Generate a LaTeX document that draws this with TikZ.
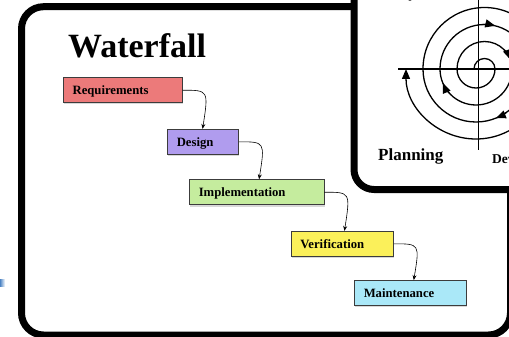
\documentclass[tikz,border=0pt]{standalone}
\usepackage{fontspec}
\setmainfont{Liberation Serif}
\usetikzlibrary{arrows.meta,shadows}

\definecolor{reqred}{HTML}{EC7A7A}
\definecolor{desviolet}{HTML}{B09CEE}
\definecolor{impgreen}{HTML}{C5EC9E}
\definecolor{veryellow}{HTML}{FBF05A}
\definecolor{maincyan}{HTML}{AAE8F8}
\definecolor{boxedge}{HTML}{3C3C3C}
\definecolor{smudgeblue}{HTML}{4D84C4}

\begin{document}
\begin{tikzpicture}[x=1pt,y=1pt,
  phase/.style={draw=boxedge, line width=0.8pt, minimum height=25pt,
    inner xsep=9.4pt, inner ysep=0pt, text height=8.5pt, text depth=0pt,
    align=left, font=\fontsize{12.7}{14}\selectfont\bfseries,
    drop shadow={shadow xshift=0.6pt, shadow yshift=-1.8pt, opacity=0.3}},
  flow/.style={line width=0.6pt, -{Stealth[length=5pt,width=4pt]}},
  frame/.style={line width=7pt, rounded corners=22pt},
  spiral/.style={line width=1.3pt},
  spiraltip/.style={line width=1.3pt, -{Triangle[length=10pt,width=8pt]}},
  label/.style={anchor=base west, inner sep=0pt},
]
\useasboundingbox (0,0) rectangle (509,-337);
\clip (0,0) rectangle (509,-337);
\fill[white] (0,0) rectangle (509,-337);

% outer frame of the waterfall panel
\draw[frame] (21.5,-6.7) rectangle (510.5,-335);
\shade[left color=smudgeblue, right color=white] (0,-279) rectangle (5,-286);

% spiral panel in the upper right corner
\draw[frame, fill=white, rounded corners=20pt] (354,-189.5) rectangle (640,60);

% axes of the spiral
\draw[spiral] (398.3,-69) -- (520,-69);
\draw[spiral] (478.3,5) -- (478.3,-150);

% the spiral itself, built from alternating half circles
\draw[spiraltip] (474,-69)
  arc[start angle=180,end angle=0,radius=10.5]
  arc[start angle=0,end angle=-180,radius=19]
  arc[start angle=180,end angle=0,radius=27.5]
  arc[start angle=0,end angle=-180,radius=36]
  arc[start angle=180,end angle=0,radius=44.5]
  arc[start angle=0,end angle=-180,radius=53]
  arc[start angle=180,end angle=0,radius=61.5]
  arc[start angle=0,end angle=-180,radius=70];

% direction marks along the spiral
\draw[spiraltip] (484.5,-69) ++(92:44.5) arc[start angle=92,end angle=76,radius=44.5];
\draw[spiraltip] (484.5,-69) ++(44:27.5) arc[start angle=44,end angle=20,radius=27.5];
\draw[spiraltip] (476,-69) ++(222:36) arc[start angle=222,end angle=203,radius=36];
\draw[spiraltip] (476,-69) ++(305:53) arc[start angle=305,end angle=292,radius=53];

% quadrant labels
\node[label, font=\fontsize{17}{20}\selectfont\bfseries] (risk) at (336,2.6) {Risk Analysis};
\node[label, font=\fontsize{17}{20}\selectfont\bfseries] (plan) at (378,-160.5) {Planning};
\node[label, font=\fontsize{13.5}{16}\selectfont\bfseries] (dev) at (492,-163.3) {Development};

% title
\node[label, font=\fontsize{34}{40}\selectfont\bfseries] (title) at (68,-58) {Waterfall};

% phases
\node[phase, fill=reqred, text width=100.2pt] (req) at (122.7,-90.2) {Requirements};
\node[phase, fill=desviolet, text width=52.5pt] (des) at (203,-141.8) {Design};
\node[phase, fill=impgreen, text width=115.9pt] (imp) at (256.7,-192.2) {Implementation};
\node[phase, fill=veryellow, text width=83.5pt] (ver) at (342.2,-243.8) {Verification};
\node[phase, fill=maincyan, text width=92.9pt] (mai) at (410.2,-293) {Maintenance};

% hand-offs between phases
\draw[flow] (req.east) .. controls ([xshift=26pt]req.east) .. ([xshift=20pt]req.east |- des.north);
\draw[flow] (des.east) .. controls ([xshift=26pt]des.east) .. ([xshift=20pt]des.east |- imp.north);
\draw[flow] (imp.east) .. controls ([xshift=26pt]imp.east) .. ([xshift=20pt]imp.east |- ver.north);
\draw[flow] (ver.east) .. controls ([xshift=26pt]ver.east) .. ([xshift=20pt]ver.east |- mai.north);
\end{tikzpicture}
\end{document}
